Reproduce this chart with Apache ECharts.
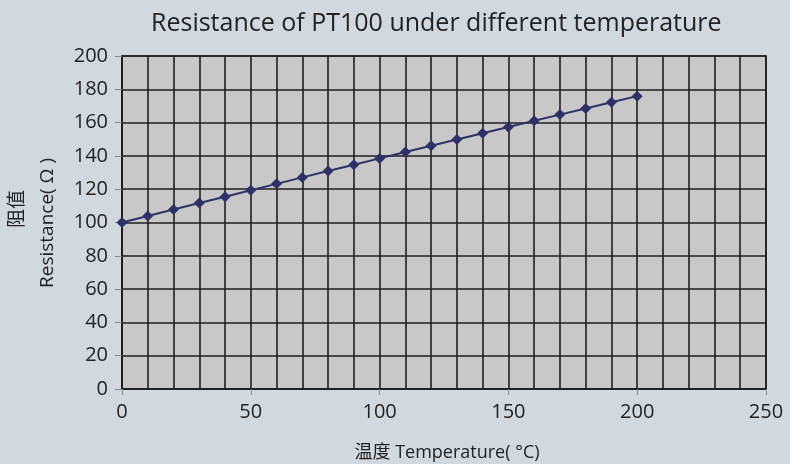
<!DOCTYPE html>
<html>
<head>
<meta charset="utf-8">
<script src="https://cdn.jsdelivr.net/npm/echarts@6/dist/echarts.min.js"></script>
<style>
  html, body { margin: 0; padding: 0; background: #d1d9df; }
  #chart { width: 790px; height: 464px; }
</style>
</head>
<body>
<div id="chart"></div>
<script>
// 温度 (°C) 和 PT100 阻值 (Ω)
const temperatures = [0, 10, 20, 30, 40, 50, 60, 70, 80, 90, 100, 110, 120, 130, 140, 150, 160, 170, 180, 190, 200]
const resistances = [100, 103.9, 107.8, 111.7, 115.5, 119.4, 123.2, 127.1, 130.9, 134.7, 138.5, 142.3, 146.1, 149.8, 153.6, 157.3, 161.1, 164.8, 168.5, 172.2, 175.9]

const fontFamily = '"Open Sans", "Noto Sans CJK SC", sans-serif'
const gridLine = { color: '#1f1f1f', width: 1.6 }

const chart = echarts.init(document.getElementById('chart'))

const option = {
  backgroundColor: '#d1d9df',
  animation: false,
  title: {
    text: 'Resistance of PT100 under different temperature',
    left: 146,
    top: 6,
    textStyle: { fontSize: 25, fontWeight: 'normal', color: '#222', fontFamily }
  },
  grid: {
    left: 122, right: 24, top: 56, bottom: 75,
    show: true,
    backgroundColor: '#c8c8c8',
    borderColor: '#1f1f1f',
    borderWidth: 1.6
  },
  xAxis: {
    type: 'value',
    min: 0, max: 250, interval: 50,
    axisLine: { show: true, lineStyle: { color: '#1f1f1f', width: 1.6 } },
    axisTick: { show: true, length: 6, lineStyle: { color: '#888' } },
    axisLabel: { fontSize: 20, color: '#222', margin: 13, fontFamily },
    splitLine: { show: true, lineStyle: gridLine },
    minorTick: { show: false, splitNumber: 5 },
    minorSplitLine: { show: true, lineStyle: gridLine }
  },
  yAxis: {
    type: 'value',
    min: 0, max: 200, interval: 20,
    axisLine: { show: true, lineStyle: { color: '#1f1f1f', width: 1.6 } },
    axisTick: { show: true, length: 7, lineStyle: { color: '#888' } },
    axisLabel: { fontSize: 20, color: '#222', margin: 14, fontFamily },
    splitLine: { show: true, lineStyle: gridLine }
  },
  graphic: [
    {
      type: 'text', x: 18, y: 209, rotation: Math.PI / 2,
      style: { text: '阻值', fontSize: 19, fill: '#222', fontFamily, align: 'center', verticalAlign: 'middle' }
    },
    {
      type: 'text', x: 48, y: 223, rotation: Math.PI / 2,
      style: { text: 'Resistance( Ω )', fontSize: 19, fill: '#222', fontFamily, align: 'center', verticalAlign: 'middle' }
    },
    {
      type: 'text', x: 447, y: 453,
      style: { text: '温度 Temperature( °C)', fontSize: 18, fill: '#222', fontFamily, align: 'center', verticalAlign: 'middle' }
    }
  ],
  series: [{
    type: 'line',
    data: temperatures.map((t, i) => [t, resistances[i]]),
    symbol: 'diamond',
    symbolSize: 11,
    itemStyle: { color: '#2e3166' },
    lineStyle: { color: '#2e3166', width: 2 }
  }]
}

chart.setOption(option)
</script>
</body>
</html>
